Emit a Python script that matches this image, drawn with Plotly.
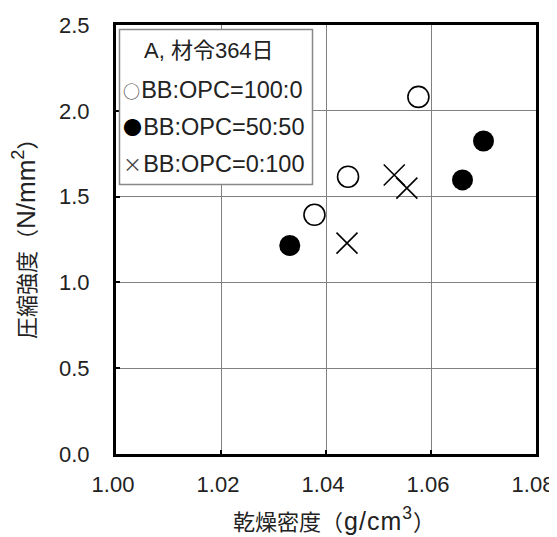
import plotly.graph_objects as go

# Data
open_x = [1.0378, 1.0442, 1.0576]
open_y = [1.394, 1.616, 2.081]
fill_x = [1.0331, 1.0660, 1.0700]
fill_y = [1.215, 1.597, 1.824]
cross_x = [1.0440, 1.0530, 1.0554]
cross_y = [1.229, 1.626, 1.549]

names = ["BB:OPC=100:0", "BB:OPC=50:50", "BB:OPC=0:100"]
legend_symbols = ["○", "●", "×"]
legend_title = "A, 材令364日"
x_ticks = [1.00, 1.02, 1.04, 1.06, 1.08]
y_ticks = [0.0, 0.5, 1.0, 1.5, 2.0, 2.5]

LAT = "Liberation Sans, Arial, sans-serif"
FONT = "Liberation Sans, Arial, Noto Sans CJK JP, sans-serif"
CJK = "Noto Sans CJK JP"
TXT = "#222"

# page has an 8px body margin; figure coordinates = page coordinates - 8
OFF = 8
W, H = 557 - OFF, 537 - OFF
ML, MT = 116 - OFF, 25 - OFF
MR, MB = 21, 83
PW, PH = W - ML - MR, H - MT - MB


def px(xp):  # page pixel x -> paper fraction
    return (xp - OFF - ML) / PW


def py(yp):  # page pixel y -> paper fraction
    return (H - MB - (yp - OFF)) / PH


x_title = "乾燥密度<span style='letter-spacing:1px'>（<span style='font-size:25px'>g/cm<sup>3</sup></span>）</span>"
y_title = "圧縮強度（<span style='font-size:26px'>N/mm<sup>2</sup></span>）"

fig = go.Figure()
fig.add_trace(go.Scatter(x=open_x, y=open_y, mode="markers", name=names[0],
                         marker=dict(symbol="circle-open", size=21, color="black", line=dict(width=1.6))))
fig.add_trace(go.Scatter(x=fill_x, y=fill_y, mode="markers", name=names[1],
                         marker=dict(symbol="circle", size=21, color="black")))
fig.add_trace(go.Scatter(x=cross_x, y=cross_y, mode="markers", name=names[2],
                         marker=dict(symbol="x-thin-open", size=21, color="black", line=dict(width=1.6, color="black"))))

axis_common = dict(
    showgrid=True, gridcolor="#808080", gridwidth=1,
    showline=True, linecolor="black", linewidth=3, mirror=True,
    ticks="inside", ticklen=4, tickwidth=2, tickcolor="black",
    zeroline=False, automargin=False, ticklabeloverflow="allow",
    tickfont=dict(family=LAT, size=22, color=TXT),
)

fig.update_xaxes(range=[1.00, 1.08], tickvals=x_ticks, ticktext=[f"{v:.2f}" for v in x_ticks],
                 ticklabelstandoff=9, ticklabelshift=-3,
                 **axis_common)
fig.update_yaxes(range=[0, 2.5], tickvals=y_ticks, ticktext=[f"{v:.1f}" for v in y_ticks],
                 ticklabelstandoff=19,
                 **axis_common)

# Legend drawn as a framed text box, like the reference
shapes = [dict(type="rect", xref="paper", yref="paper",
               x0=px(119.5), x1=px(312.5), y0=py(184.5), y1=py(29.5),
               line=dict(color="#888888", width=1.5), fillcolor="white", layer="above")]

annotations = [
    dict(xref="paper", yref="paper", x=px(142), y=py(50), xanchor="left", yanchor="middle",
         text=legend_title, showarrow=False, font=dict(family=FONT, size=22, color=TXT)),
    dict(xref="paper", yref="paper", x=px(334), y=py(519), xanchor="center", yanchor="middle",
         text=x_title, showarrow=False, font=dict(family=FONT, size=22, color=TXT)),
    dict(xref="paper", yref="paper", x=px(24), y=py(234), xanchor="center", yanchor="middle",
         textangle=-90, text=y_title, showarrow=False, font=dict(family=FONT, size=22, color=TXT)),
]
row_y = [90, 126, 163]
sym_size = [17, 19, 19]
sym_col = ["#444", "#000", "#444"]
for name, sym, yy, ss, sc in zip(names, legend_symbols, row_y, sym_size, sym_col):
    annotations.append(dict(
        xref="paper", yref="paper", x=px(121), y=py(yy), xanchor="left", yanchor="middle",
        text=f"<span style='font-family:{CJK};font-size:{ss}px;color:{sc}'>{sym}</span>"
             f"<span style='font-size:4px'> </span>{name}",
        showarrow=False, font=dict(family=LAT, size=23.5, color=TXT)))

fig.update_layout(
    width=W, height=H,
    margin=dict(l=ML, r=MR, t=MT, b=MB, autoexpand=False),
    paper_bgcolor="white", plot_bgcolor="white",
    showlegend=False,
    shapes=shapes, annotations=annotations,
)

fig.write_html("out.html")
